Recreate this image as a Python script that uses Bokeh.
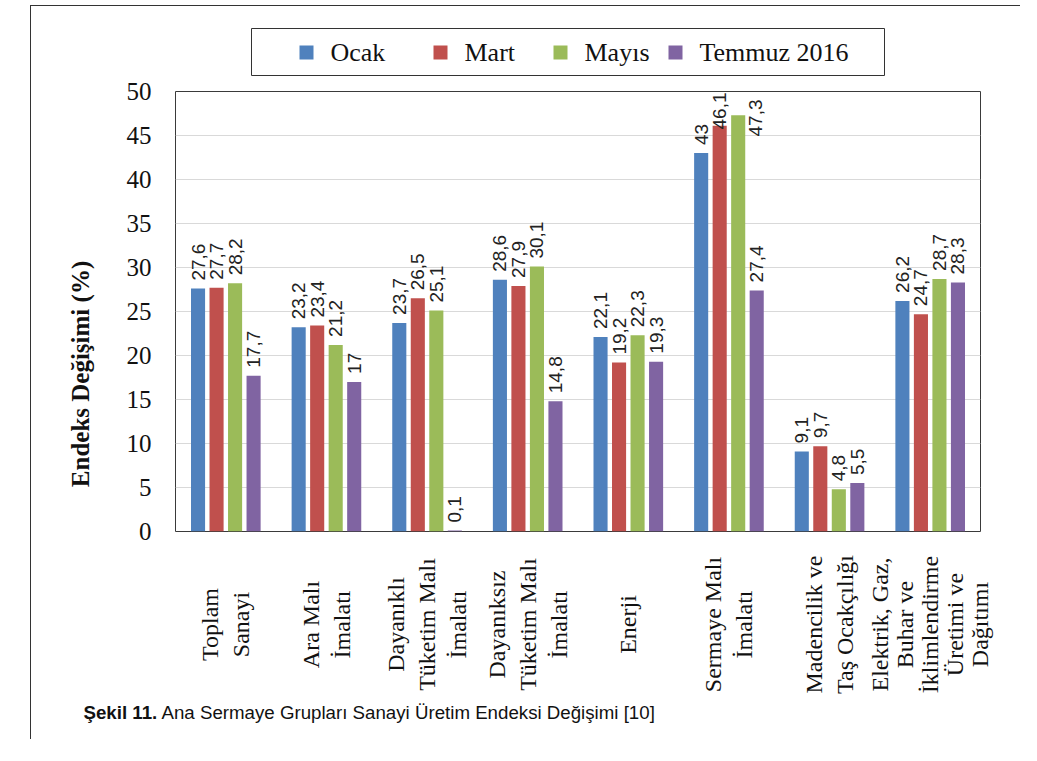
import math
from bokeh.plotting import figure
from bokeh.models import ColumnDataSource, FactorRange, Range1d, FixedTicker
from bokeh.transform import dodge
from bokeh.core.properties import value
from bokeh.embed import file_html
from bokeh.resources import INLINE

# ---------------- data ----------------
categories = [
    "Toplam Sanayi",
    "Ara Malı İmalatı",
    "Dayanıklı Tüketim Malı İmalatı",
    "Dayanıksız Tüketim Malı İmalatı",
    "Enerji",
    "Sermaye Malı İmalatı",
    "Madencilik ve Taş Ocakçılığı",
    "Elektrik, Gaz, Buhar ve İklimlendirme Üretimi ve Dağıtımı",
]
category_lines = [
    ["Toplam", "Sanayi"],
    ["Ara Malı", "İmalatı"],
    ["Dayanıklı", "Tüketim Malı", "İmalatı"],
    ["Dayanıksız", "Tüketim Malı", "İmalatı"],
    ["Enerji"],
    ["Sermaye Malı", "İmalatı"],
    ["Madencilik ve", "Taş Ocakçılığı"],
    ["Elektrik, Gaz,", "Buhar ve", "İklimlendirme", "Üretimi ve", "Dağıtımı"],
]
series_names = ["Ocak", "Mart", "Mayıs", "Temmuz 2016"]
ocak = [27.6, 23.2, 23.7, 28.6, 22.1, 43.0, 9.1, 26.2]
mart = [27.7, 23.4, 26.5, 27.9, 19.2, 46.1, 9.7, 24.7]
mayis = [28.2, 21.2, 25.1, 30.1, 22.3, 47.3, 4.8, 28.7]
temmuz = [17.7, 17.0, 0.1, 14.8, 19.3, 27.4, 5.5, 28.3]
y_ticks = [0, 5, 10, 15, 20, 25, 30, 35, 40, 45, 50]
y_title = "Endeks Değişimi (%)"
caption_bold = "Şekil 11."
caption_text = "Ana Sermaye Grupları Sanayi Üretim Endeksi Değişimi [10]"

series_values = [ocak, mart, mayis, temmuz]
colors = ["#4F81BD", "#C0504D", "#9BBB59", "#8064A2"]

# ---------------- layout constants (px) ----------------
FRAME_W, FRAME_H = 805, 440
YMAX = 50
PX_Y = FRAME_H / YMAX
PX_X = FRAME_W / len(categories)
BAR_W = 0.14
PITCH = 0.184
offsets = [(-1.5 + k) * PITCH for k in range(4)]
B_LEFT, B_RIGHT, B_TOP, B_BOTTOM = 144, 41, 15, 14
FULL_W = B_LEFT + FRAME_W + B_RIGHT
MAIN_H = B_TOP + FRAME_H + B_BOTTOM
TOP_H = 71
BOT_H = 194
LEG_BOX = (220, 853, 2, 49)            # left, right, bottom, top of the legend box
LEG_SQ_LEFT = [268, 402, 522, 637]     # legend swatch left edges
LEG_Y = 25
SWATCH = 14
LEG_STANDOFF = 17
LABEL_PX = 40          # approx. rotated value-label length
CAT_LABEL_DY = 79      # centre of category labels below the top of the lower panel
CAPTION_DY = 167       # caption baseline below the top of the lower panel
CAPTION_X = 52         # caption start from the left border
CAPTION_BOLD_W = 78    # width of the bold lead-in
TITLE_SHIFT = 20       # no-break spaces that move the axis title downwards

def fmt(v):
    return ("%g" % v).replace(".", ",")

def panel(h):
    f = figure(width=FULL_W, height=h, x_range=Range1d(0, FULL_W), y_range=Range1d(0, h),
               min_border=0, output_backend="svg", toolbar_location=None,
               background_fill_color="white", border_fill_color="white")
    f.axis.visible = False
    f.grid.visible = False
    f.outline_line_color = None
    return f

# ---------------- legend panel ----------------
tp = panel(TOP_H)
tp.styles = {"margin-left": "30px", "margin-top": "5px",
             "border-left": "1px solid #333", "border-top": "1px solid #333"}
tp.quad(left=[LEG_BOX[0]], right=[LEG_BOX[1]], bottom=[LEG_BOX[2]], top=[LEG_BOX[3]],
        fill_color="white", line_color="#333333", line_width=1)
tp.rect(x=[x + SWATCH / 2 for x in LEG_SQ_LEFT], y=[LEG_Y] * 4, width=SWATCH, height=SWATCH,
        fill_color=colors, line_color=None)
tp.text(x=[x + SWATCH + LEG_STANDOFF for x in LEG_SQ_LEFT], y=[LEG_Y] * 4, text=series_names,
        text_align="left", text_baseline="middle",
        text_font=value("Liberation Serif"), text_font_size="26px", text_color="#111111")

# ---------------- main chart ----------------
p = figure(
    x_range=FactorRange(factors=categories, range_padding=0),
    y_range=Range1d(0, YMAX),
    width=FULL_W, height=MAIN_H,
    min_border_left=B_LEFT, min_border_right=B_RIGHT,
    min_border_top=B_TOP, min_border_bottom=B_BOTTOM,
    output_backend="svg", toolbar_location=None,
    background_fill_color="white", border_fill_color="white",
)
p.styles = {"margin-left": "30px", "border-left": "1px solid #333"}
p.outline_line_color = "#3a3a3a"
p.outline_line_width = 1
p.xaxis.visible = False
p.xgrid.visible = False
p.ygrid.grid_line_color = "#d9d9d9"
p.ygrid.grid_line_width = 1

yax = p.yaxis[0]
yax.ticker = FixedTicker(ticks=y_ticks)
yax.axis_line_color = None
yax.major_tick_line_color = None
yax.minor_tick_line_color = None
yax.major_tick_in = 0
yax.major_tick_out = 0
yax.major_label_standoff = 24
yax.major_label_text_font = "Liberation Serif"
yax.major_label_text_font_size = "25px"
yax.major_label_text_color = "#111111"
yax.axis_label = y_title + "\u00a0" * TITLE_SHIFT
yax.axis_label_standoff = 30
yax.axis_label_text_font = "Liberation Serif"
yax.axis_label_text_font_style = "bold"
yax.axis_label_text_font_size = "25px"
yax.axis_label_text_color = "#111111"

src = ColumnDataSource({"cat": categories, **{n: v for n, v in zip(series_names, series_values)}})

gap = 8 / PX_Y
for k, (name, vals) in enumerate(zip(series_names, series_values)):
    p.vbar(x=dodge("cat", offsets[k], range=p.x_range), top=name, width=BAR_W,
           source=src, fill_color=colors[k], line_color=None)

    normal = {"cat": [], "y": [], "t": []}
    top = {"cat": [], "y": [], "t": []}
    side = {"cat": [], "y": [], "t": []}
    for c, v in zip(categories, vals):
        if v + gap + LABEL_PX / PX_Y <= YMAX:
            d = normal; yy = v + gap
        elif v > 47:
            d = side; yy = YMAX - gap
        else:
            d = top; yy = YMAX - 1 / PX_Y
        d["cat"].append(c); d["y"].append(yy); d["t"].append(fmt(v))
    common = dict(angle=math.pi / 2, text_baseline="middle",
                  text_font=value("Liberation Sans"), text_font_size="19px",
                  text_color="#222222")
    p.text(x=dodge("cat", offsets[k], range=p.x_range), y="y", text="t",
           source=ColumnDataSource(normal), text_align="left", **common)
    if top["cat"]:
        p.text(x=dodge("cat", offsets[k], range=p.x_range), y="y", text="t",
               source=ColumnDataSource(top), text_align="right", **common)
    if side["cat"]:
        p.text(x=dodge("cat", offsets[k] + 17 / PX_X, range=p.x_range), y="y", text="t",
               source=ColumnDataSource(side), text_align="right", **common)

# ---------------- category labels + caption panel ----------------
bt = panel(BOT_H)
bt.styles = {"margin-left": "30px", "border-left": "1px solid #333"}

lx, ly, lt_ = [], [], []
for i, lines in enumerate(category_lines):
    cx = B_LEFT + (i + 0.5) * PX_X
    n = len(lines)
    sp = 31 if n <= 3 else 25
    for j, line in enumerate(lines):
        lx.append(cx + (j - (n - 1) / 2) * sp)
        ly.append(BOT_H - CAT_LABEL_DY)
        lt_.append(line)
bt.text(x=lx, y=ly, text=lt_, angle=math.pi / 2, text_align="center", text_baseline="middle",
        text_font=value("Liberation Serif"), text_font_size="24px", text_color="#111111")

bt.text(x=[CAPTION_X], y=[BOT_H - CAPTION_DY], text=[caption_bold],
        text_align="left", text_baseline="alphabetic",
        text_font=value("Liberation Sans"), text_font_style="bold",
        text_font_size="18.7px", text_color="#111111")
bt.text(x=[CAPTION_X + CAPTION_BOLD_W], y=[BOT_H - CAPTION_DY], text=[caption_text],
        text_align="left", text_baseline="alphabetic",
        text_font=value("Liberation Sans"), text_font_size="18.7px", text_color="#111111")

open("out.html", "w").write(file_html([tp, p, bt], INLINE))
